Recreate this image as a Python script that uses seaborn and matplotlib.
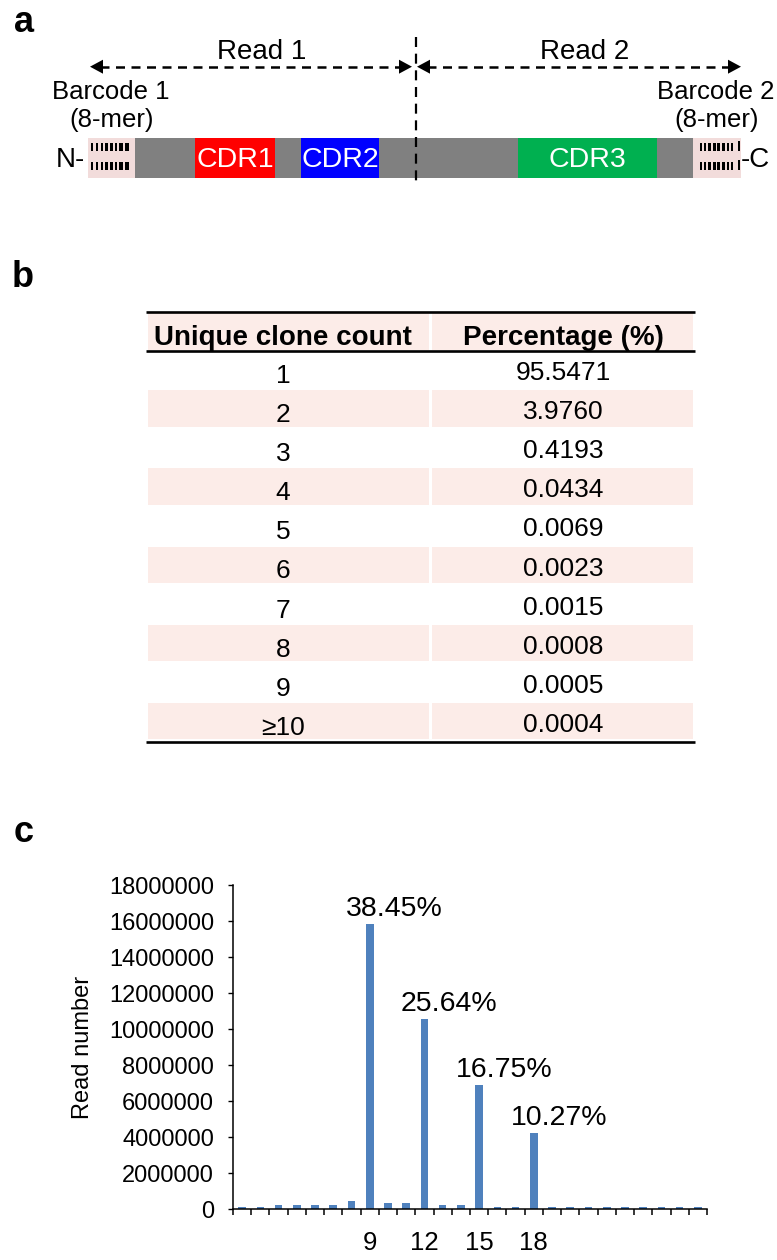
import numpy as np
import matplotlib
matplotlib.use("Agg")
import matplotlib.pyplot as plt
from matplotlib.patches import Rectangle, Polygon
import seaborn as sns

# ---------------- data ----------------
# panel a : construct segments (label, colour)
segment_labels = ["CDR1", "CDR2", "CDR3"]
segment_colors = ["#FF0000", "#0000FF", "#00B050"]
read_labels = ["Read 1", "Read 2"]
barcode_labels = ["Barcode 1\n(8-mer)", "Barcode 2\n(8-mer)"]

# panel b : table
table_headers = ["Unique clone count", "Percentage (%)"]
clone_counts = ["1", "2", "3", "4", "5", "6", "7", "8", "9", "≥10"]
clone_percentages = [95.5471, 3.9760, 0.4193, 0.0434, 0.0069,
                     0.0023, 0.0015, 0.0008, 0.0005, 0.0004]

# panel c : read number per length
read_lengths = list(range(2, 28))
read_numbers = [90000, 90000, 210000, 210000, 210000, 210000, 470000,
                15830000, 330000, 330000, 10560000, 210000, 210000,
                6900000, 90000, 90000, 4230000, 90000, 90000, 90000,
                90000, 90000, 90000, 90000, 90000, 90000]
peak_lengths = [9, 12, 15, 18]
peak_labels = ["38.45%", "25.64%", "16.75%", "10.27%"]
y_ticks = list(range(0, 18000001, 2000000))

# ---------------- style ----------------
sns.set_style("ticks")
plt.rcParams["font.family"] = ["Liberation Sans", "DejaVu Sans"]
for k in ("text.color", "axes.labelcolor", "xtick.color", "ytick.color", "axes.edgecolor"):
    plt.rcParams[k] = "black"

W, H = 777, 1260
fig = plt.figure(figsize=(W / 100, H / 100), dpi=100)

# overlay axes in pixel coordinates for panels a and b
ov = fig.add_axes([0, 0, 1, 1])
ov.set_xlim(0, W)
ov.set_ylim(H, 0)
ov.axis("off")

# panel letters
for letter, (lx, ly) in zip("abc", [(14, 32), (12, 287), (14, 842)]):
    ov.text(lx, ly, letter, fontsize=26, fontweight="bold", ha="left", va="baseline")

# ---------------- panel a ----------------
bar_top, bar_bot = 138, 178
pink_bc = "#F2DCDB"
ov.add_patch(Rectangle((135, bar_top), 741 - 135, bar_bot - bar_top, color="#808080", lw=0))
ov.add_patch(Rectangle((88, bar_top), 135 - 88, bar_bot - bar_top, color=pink_bc, lw=0))
ov.add_patch(Rectangle((693, bar_top), 741 - 693, bar_bot - bar_top, color=pink_bc, lw=0))
# barcode marks
left_marks = [(91, 2.0), (95.8, 1.8), (100.5, 2.0), (105.3, 2.2), (110.3, 2.6),
              (115.0, 2.2), (119.3, 3.2), (125, 3.5)]
for mx, mw in left_marks:
    for y0 in (142.8, 161.8):
        ov.add_patch(Rectangle((mx, y0), mw, 8.3, color="black", lw=0))
right_marks = [(700, 2.2), (704, 2.2), (708.3, 2.6), (712.7, 3.0), (717.3, 2.8),
               (721.7, 2.8), (726.5, 2.8), (730.5, 2.7)]
for mx, mw in right_marks:
    for y0 in (142.8, 161.8):
        ov.add_patch(Rectangle((mx, y0), mw, 8.3, color="black", lw=0))
for y0 in (140.5, 159.5):
    ov.add_patch(Rectangle((738.3, y0), 2.0, 10.8, color="black", lw=0))

# CDR boxes
cdr_spans = [(195, 275), (301, 379), (518, 657)]
for (x0, x1), lab, col in zip(cdr_spans, segment_labels, segment_colors):
    ov.add_patch(Rectangle((x0, bar_top), x1 - x0, bar_bot - bar_top, color=col, lw=0))
    ov.text((x0 + x1) / 2, 167, lab, color="white", fontsize=20.5,
            ha="center", va="baseline")

ov.text(85, 167, "N-", fontsize=20, ha="right", va="baseline")
ov.text(741, 167, "-C", fontsize=20, ha="left", va="baseline")

# vertical dashed divider
ov.plot([416, 416], [37, 184], color="black", lw=1.6, dashes=(4.5, 3))

# read arrows
arrow_y = 66.7
for (xl, xr), lab, tx in zip([(90, 412), (417, 741)], read_labels, [262, 585]):
    ov.plot([xl + 10, xr - 10], [arrow_y, arrow_y], color="black", lw=1.8,
            dashes=(3.6, 2.6))
    ov.add_patch(Polygon([[xl, arrow_y], [xl + 13, arrow_y - 7], [xl + 13, arrow_y + 7]],
                         closed=True, color="black", lw=0))
    ov.add_patch(Polygon([[xr, arrow_y], [xr - 13, arrow_y - 7], [xr - 13, arrow_y + 7]],
                         closed=True, color="black", lw=0))
    ov.text(tx, 59, lab, fontsize=20, ha="center", va="baseline")

for cx, lab in zip([111, 716], barcode_labels):
    l1, l2 = lab.split("\n")
    ov.text(cx, 99, l1, fontsize=18.5, ha="center", va="baseline")
    ov.text(cx + 1, 127, l2, fontsize=18.5, ha="center", va="baseline")

# ---------------- panel b ----------------
pink_row = "#FCECE8"
c1_x0, c1_x1 = 148, 429
c2_x0, c2_x1 = 432, 693
col_centers = [283, 563]
row_top0, row_pitch = 351, 39.1

ov.add_patch(Rectangle((c1_x0, 313), c1_x1 - c1_x0, 37, color=pink_row, lw=0))
ov.add_patch(Rectangle((c2_x0, 313), c2_x1 - c2_x0, 37, color=pink_row, lw=0))
for cx, hd in zip(col_centers, table_headers):
    ov.text(cx, 345, hd, fontsize=20, fontweight="bold", ha="center", va="baseline")

for i, (cnt, pct) in enumerate(zip(clone_counts, clone_percentages)):
    top = row_top0 + i * row_pitch
    if i % 2 == 1:
        ov.add_patch(Rectangle((c1_x0, top), c1_x1 - c1_x0, 36.5, color=pink_row, lw=0))
        ov.add_patch(Rectangle((c2_x0, top), c2_x1 - c2_x0, 36.5, color=pink_row, lw=0))
    base = top + 32
    ov.text(col_centers[0], base, cnt, fontsize=19, ha="center", va="baseline")
    ov.text(col_centers[1], base - 3, f"{pct:.4f}", fontsize=19, ha="center", va="baseline")

rule_bottom = row_top0 + len(clone_counts) * row_pitch
for yy in (311.5, 350.5, rule_bottom):
    ov.plot([146, 695], [yy, yy], color="black", lw=1.9, solid_capstyle="butt")

# ---------------- panel c ----------------
ax_left, ax_right, ax_bot, ax_top = 233, 707, 1209, 885
ax = fig.add_axes([ax_left / W, (H - ax_bot) / H, (ax_right - ax_left) / W, (ax_bot - ax_top) / H])
sns.barplot(x=read_lengths, y=read_numbers, color="#4F81BD", saturation=1,
            width=0.42, ax=ax, edgecolor="none", linewidth=0)
ax.set_xlim(-0.5, len(read_lengths) - 0.5)
ax.set_ylim(0, 18000000)
ax.set_yticks(y_ticks)
ax.set_yticklabels([str(v) for v in y_ticks], fontsize=17)
ax.tick_params(axis="y", length=3.5, width=1, pad=10, color="black")

pos = [read_lengths.index(p) for p in peak_lengths]
ax.set_xticks(pos)
ax.set_xticklabels([str(p) for p in peak_lengths], fontsize=18.5)
ax.tick_params(axis="x", which="major", length=0, pad=16)
ax.set_xticks(np.arange(-0.5, len(read_lengths), 1.0), minor=True)
ax.tick_params(axis="x", which="minor", length=4.5, width=1.1, color="black", direction="out")

for p, lab in zip(pos, peak_labels):
    ax.annotate(lab, xy=(p, read_numbers[p]), xytext=(18, 11),
                textcoords="offset points", ha="center", va="center", fontsize=20.5)

ax.set_xlabel("")
ax.set_ylabel("Read number", fontsize=17, labelpad=11)
sns.despine(ax=ax)
for s in ("left", "bottom"):
    ax.spines[s].set_color("black")
    ax.spines[s].set_linewidth(1.1)

fig.savefig("out.png", dpi=100)
